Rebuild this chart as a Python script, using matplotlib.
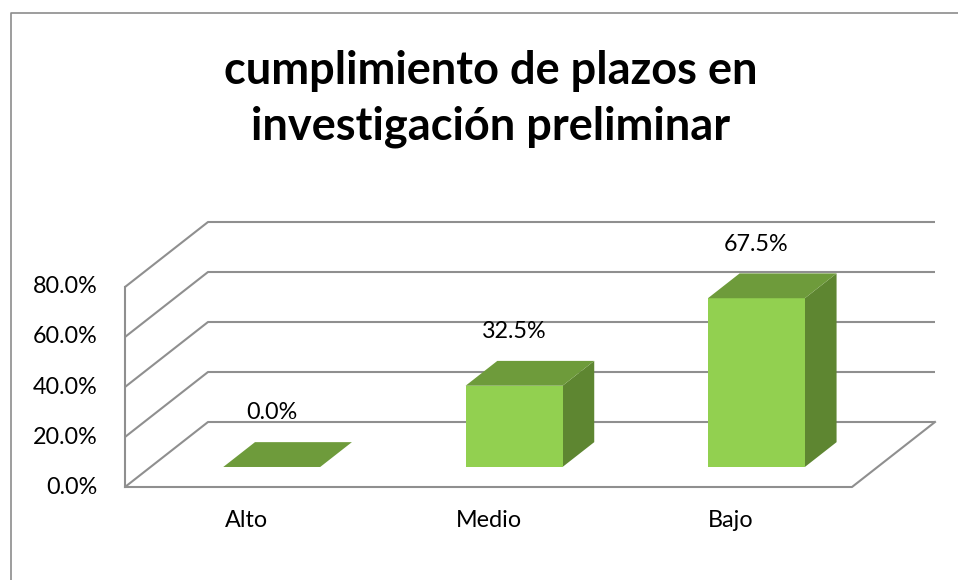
import matplotlib
matplotlib.use("Agg")
import matplotlib.pyplot as plt
from matplotlib.patches import Polygon
from matplotlib.lines import Line2D

# ---- data ----
categories = ["Alto", "Medio", "Bajo"]
values = [0.0, 32.5, 67.5]
value_labels = ["0.0%", "32.5%", "67.5%"]
y_ticks = [0, 20, 40, 60, 80]
y_tick_labels = ["0.0%", "20.0%", "40.0%", "60.0%", "80.0%"]
title = "cumplimiento de plazos en\ninvestigación preliminar"

# ---- style ----
W, H = 958, 580
FONT = "Lato"
GRID = "#8f8f8f"
FRONT = "#92D050"
TOP = "#6E9B3B"
SIDE = "#5E8631"
LABEL_FS = 16.8

fig = plt.figure(figsize=(W / 100, H / 100), dpi=100)
fig.patch.set_facecolor("white")

# plot area (front plane) in pixels
x0, x1 = 125, 852
y_front0, y_front80 = 487, 287
ax = fig.add_axes([x0 / W, (H - y_front0) / H, (x1 - x0) / W, (y_front0 - y_front80) / H])
ax.set_xlim(-0.5, len(categories) - 0.5)
ax.set_ylim(0, 80)
ax.axis("off")

# depth offsets (data units)
DX = 83 / (x1 - x0) * len(categories)
DY = 65 / ((y_front0 - y_front80) / 80)
xl, xr = -0.5, len(categories) - 0.5

lw = 1.5
# left wall + back wall grid
for v in y_ticks:
    ax.plot([xl, xl + DX, xr + DX], [v, v + DY, v + DY], color=GRID, lw=lw,
            clip_on=False, zorder=1, solid_capstyle="butt")
# front vertical axis
ax.plot([xl, xl], [0, y_ticks[-1]], color=GRID, lw=lw, clip_on=False, zorder=1)
# floor front edge and right edge
ax.plot([xl, xr, xr + DX], [0, 0, DY], color=GRID, lw=lw, clip_on=False, zorder=1)

# bars
d0, d1 = 0.308, 0.69
hw = 0.2
for i, (v, lab) in enumerate(zip(values, value_labels)):
    fx0 = i - hw + d0 * DX
    fx1 = i + hw + d0 * DX
    fy = d0 * DY
    bx = (d1 - d0) * DX
    by = (d1 - d0) * DY
    side = Polygon([[fx1, fy], [fx1 + bx, fy + by], [fx1 + bx, fy + by + v], [fx1, fy + v]],
                   closed=True, facecolor=SIDE, edgecolor="none", zorder=3, clip_on=False)
    front = Polygon([[fx0, fy], [fx1, fy], [fx1, fy + v], [fx0, fy + v]],
                    closed=True, facecolor=FRONT, edgecolor="none", zorder=4, clip_on=False)
    top = Polygon([[fx0, fy + v], [fx1, fy + v], [fx1 + bx, fy + by + v], [fx0 + bx, fy + by + v]],
                  closed=True, facecolor=TOP, edgecolor="none", zorder=5, clip_on=False)
    for p in (side, front, top):
        ax.add_patch(p)
    ax.annotate(lab, xy=((fx0 + fx1) / 2, fy + v), xytext=(0, 39), textcoords="offset points",
                ha="center", va="center", fontsize=LABEL_FS, family=FONT, color="black",
                annotation_clip=False, zorder=6)

# category labels
for i, c in enumerate(categories):
    ax.annotate(c, xy=(i, 0), xytext=(0, -24), textcoords="offset points",
                ha="center", va="center", fontsize=LABEL_FS, family=FONT, color="black",
                annotation_clip=False)

# y tick labels
for v, t in zip(y_ticks, y_tick_labels):
    ax.annotate(t, xy=(xl, v), xytext=(-19.5, 0), textcoords="offset points",
                ha="right", va="center", fontsize=LABEL_FS, family=FONT, color="black",
                annotation_clip=False)

# title
fig.text(491 / W, 1 - 99 / H, title, ha="center", va="center", fontsize=32.5,
         fontweight="bold", family=FONT, linespacing=1.42)

# chart border (left and top edges visible)
fig.add_artist(Line2D([10.5 / W, 10.5 / W, 1.0], [0.0, 1 - 12.5 / H, 1 - 12.5 / H],
                      transform=fig.transFigure, color="#8c8c8c", lw=1.2))

fig.savefig("out.png", dpi=100, facecolor="white")
